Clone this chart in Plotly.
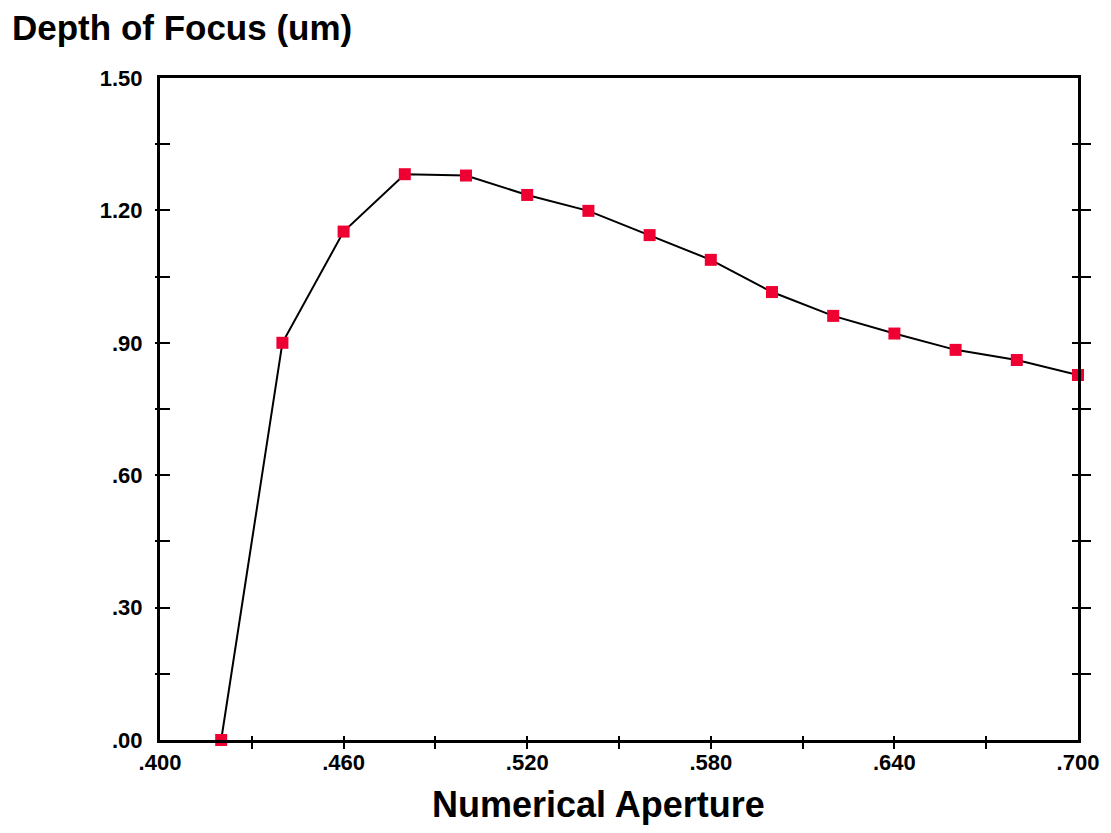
import plotly.graph_objects as go

# Data
na = [0.42, 0.44, 0.46, 0.48, 0.50, 0.52, 0.54, 0.56, 0.58, 0.60, 0.62, 0.64, 0.66, 0.68, 0.70]
dof = [0.00, 0.90, 1.152, 1.282, 1.279, 1.235, 1.199, 1.144, 1.088, 1.015, 0.961, 0.921, 0.884, 0.861, 0.827]

x_major = [0.400, 0.460, 0.520, 0.580, 0.640, 0.700]
x_major_text = [".400", ".460", ".520", ".580", ".640", ".700"]
x_minor = [0.43, 0.46, 0.49, 0.52, 0.55, 0.58, 0.61, 0.64, 0.67]
y_major = [0.0, 0.3, 0.6, 0.9, 1.2, 1.5]
y_major_text = [".00", ".30", ".60", ".90", "1.20", "1.50"]
y_minor = [0.15, 0.30, 0.45, 0.60, 0.75, 0.90, 1.05, 1.20, 1.35]

XR = [0.4, 0.7]
YR = [0.0, 1.5]
FONT = "Liberation Sans"

fig = go.Figure()
fig.add_trace(go.Scatter(
    x=na, y=dof, mode="lines+markers",
    line=dict(color="black", width=2),
    marker=dict(symbol="square", size=12, color="#EE0033", line=dict(width=0)),
    cliponaxis=False, showlegend=False, hoverinfo="x+y"))

# dummy traces so overlay axes are drawn
for xa, ya in [("x2", "y"), ("x3", "y"), ("x", "y2"), ("x", "y3"), ("x", "y4"), ("x", "y5")]:
    fig.add_trace(go.Scatter(x=[None], y=[None], xaxis=xa, yaxis=ya, showlegend=False, hoverinfo="skip"))

tickbase = dict(showticklabels=False, showline=False, showgrid=False, zeroline=False,
                tickcolor="black", tickwidth=1.5, tickmode="array")

fig.update_layout(
    width=1111, height=833,
    margin=dict(l=160, r=31, t=78, b=93),
    paper_bgcolor="white", plot_bgcolor="white",
    xaxis=dict(range=XR, tickmode="array", tickvals=x_major, ticktext=x_major_text,
               ticks="", showline=True, linewidth=3, linecolor="black", mirror=True,
               showgrid=False, zeroline=False,
               tickfont=dict(family=FONT, size=22, color="black", weight="bold"),
               ticklabelstandoff=1),
    xaxis2=dict(tickbase, overlaying="x", anchor="y", side="bottom", range=XR,
                tickvals=x_minor, ticks="outside", ticklen=8),
    xaxis3=dict(tickbase, overlaying="x", anchor="y", side="bottom", range=XR,
                tickvals=x_minor, ticks="inside", ticklen=4),
    yaxis=dict(range=YR, tickmode="array", tickvals=y_major, ticktext=y_major_text,
               ticks="", showline=True, linewidth=3, linecolor="black", mirror=True,
               showgrid=False, zeroline=False,
               tickfont=dict(family=FONT, size=22, color="black", weight="bold"),
               ticklabelstandoff=10),
    yaxis2=dict(tickbase, overlaying="y", anchor="x", side="left", range=YR,
                tickvals=y_minor, ticks="outside", ticklen=4),
    yaxis3=dict(tickbase, overlaying="y", anchor="x", side="left", range=YR,
                tickvals=y_minor, ticks="inside", ticklen=10),
    yaxis4=dict(tickbase, overlaying="y", anchor="x", side="right", range=YR,
                tickvals=y_minor, ticks="inside", ticklen=6),
    yaxis5=dict(tickbase, overlaying="y", anchor="x", side="right", range=YR,
                tickvals=y_minor, ticks="outside", ticklen=12),
    annotations=[
        dict(text="Depth of Focus (um)", xref="paper", yref="paper", x=-0.163, y=1.077,
             xanchor="left", yanchor="middle", showarrow=False,
             font=dict(family=FONT, size=35, color="black", weight="bold")),
        dict(text="Numerical Aperture", xref="paper", yref="paper", x=0.478, y=-0.097,
             xanchor="center", yanchor="middle", showarrow=False,
             font=dict(family=FONT, size=36, color="black", weight="bold")),
    ],
)

fig.write_html("out.html", config={"displayModeBar": False},
               post_script="document.body.style.margin='0';document.body.style.overflow='hidden';")
